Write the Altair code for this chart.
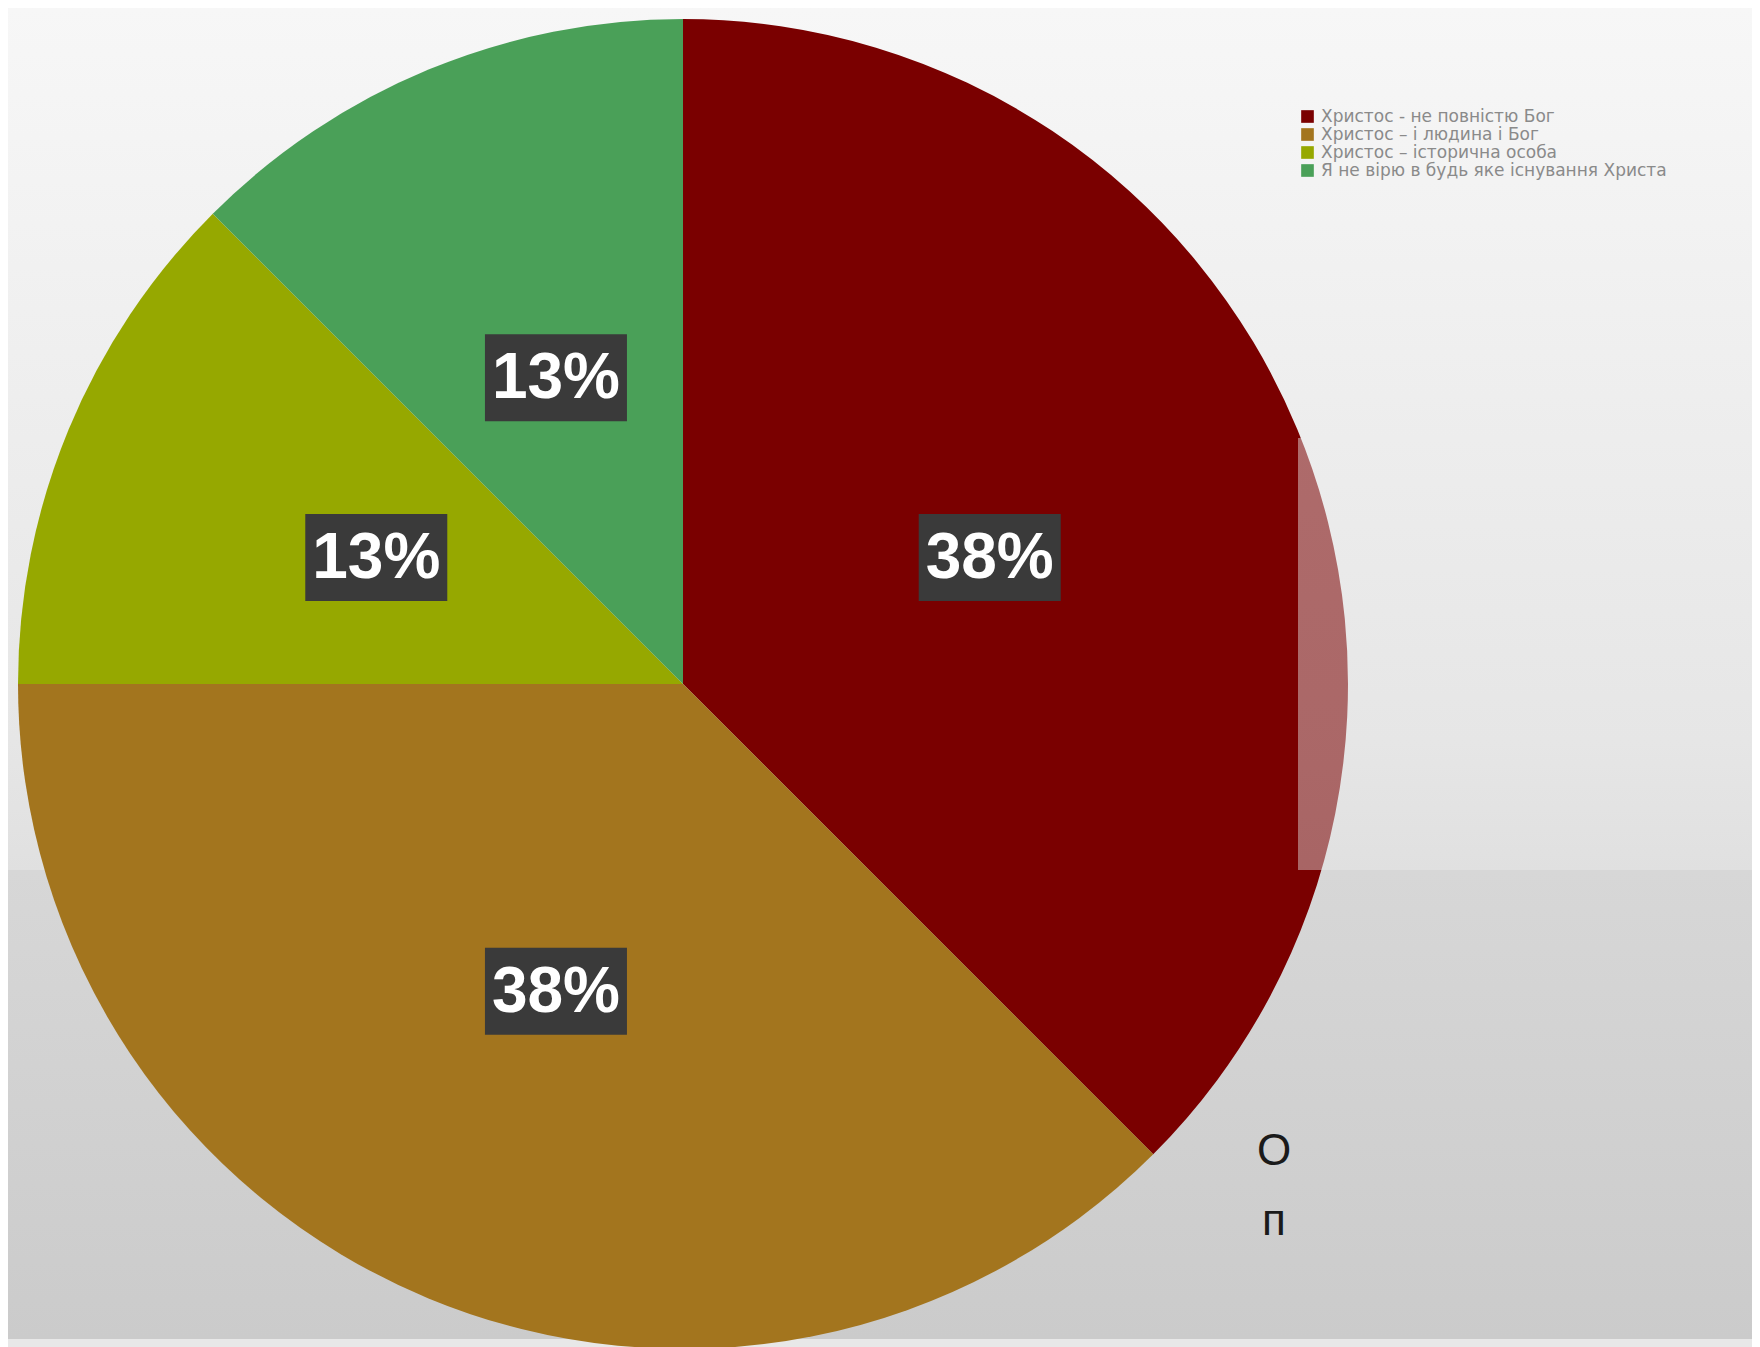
import altair as alt
import pandas as pd

categories = [
    "Христос  - не повністю Бог",
    "Христос – і людина і Бог",
    "Христос – історична особа",
    "Я не вірю в будь яке існування Христа",
]
shares = [37.5, 37.5, 12.5, 12.5]
colors = ["#7a0000", "#a3751e", "#96a800", "#4aa058"]

df = pd.DataFrame({"category": categories, "value": shares, "order": list(range(len(categories)))})

W, H = 1744, 1331
CX, CY, R = 675, 676, 665
LR = 332

base = alt.Chart(df)

bg = alt.Chart(alt.Data(values=[{}])).mark_rect(
    fill=alt.Gradient(
        gradient="linear",
        stops=[
            alt.GradientStop(color="#f7f7f7", offset=0),
            alt.GradientStop(color="#e6e6e6", offset=0.55),
            alt.GradientStop(color="#cbcbcb", offset=1),
        ],
        x1=0, x2=0, y1=0, y2=1,
    )
).encode(x=alt.value(0), x2=alt.value(W), y=alt.value(0), y2=alt.value(H))

step = alt.Chart(alt.Data(values=[{}])).mark_rect(
    fill=alt.Gradient(
        gradient="linear",
        stops=[
            alt.GradientStop(color="#d7d7d7", offset=0),
            alt.GradientStop(color="#cbcbcb", offset=1),
        ],
        x1=0, x2=0, y1=0, y2=1,
    )
).encode(x=alt.value(0), x2=alt.value(W), y=alt.value(862), y2=alt.value(H))

pie = base.mark_arc(outerRadius=R, stroke=None).encode(
    theta=alt.Theta("value:Q", stack=True),
    order=alt.Order("order:Q"),
    color=alt.Color(
        "category:N",
        scale=alt.Scale(domain=categories, range=colors),
        sort=None,
        legend=alt.Legend(
            title=None,
            orient="none",
            legendX=1291,
            legendY=100,
            symbolType="square",
            symbolSize=160,
            symbolStrokeWidth=0,
            symbolOpacity=1,
            labelFont="DejaVu Sans",
            labelFontSize=17,
            labelColor="#8a8a8a",
            labelOffset=5,
            labelLimit=0,
            rowPadding=0,
        ),
    ),
    x=alt.value(CX),
    y=alt.value(CY),
)

overlay = alt.Chart(alt.Data(values=[{}])).mark_rect(
    opacity=0.45,
    fill=alt.Gradient(
        gradient="linear",
        stops=[
            alt.GradientStop(color="#ededed", offset=0),
            alt.GradientStop(color="#e6e6e6", offset=0.7),
            alt.GradientStop(color="#e0e0e0", offset=1),
        ],
        x1=0, x2=0, y1=0, y2=1,
    ),
).encode(x=alt.value(1290), x2=alt.value(W), y=alt.value(430), y2=alt.value(862))

pos = (
    base.transform_joinaggregate(total="sum(value)")
    .transform_window(cum="sum(value)", sort=[alt.SortField("order")], frame=[None, 0])
    .transform_calculate(
        mid="(datum.cum - datum.value/2) / datum.total * 2 * PI",
        label="format(datum.value / datum.total, '.0%')",
    )
    .transform_calculate(
        cx=f"{CX} + {LR} * sin(datum.mid)",
        cy=f"{CY} - {LR} * cos(datum.mid)",
    )
    .transform_calculate(
        bx1="datum.cx - 71", bx2="datum.cx + 71", by1="datum.cy - 43", by2="datum.cy + 44"
    )
)

boxes = pos.mark_rect(fill="#3a3a3a").encode(
    x=alt.X("bx1:Q", scale=None, axis=None),
    x2="bx2:Q",
    y=alt.Y("by1:Q", scale=None, axis=None),
    y2="by2:Q",
)

labels = pos.mark_text(
    font="Liberation Sans", fontSize=64, fontWeight="bold", color="white",
    align="center", baseline="middle", dy=2,
).encode(
    x=alt.X("cx:Q", scale=None, axis=None),
    y=alt.Y("cy:Q", scale=None, axis=None),
    text="label:N",
)

note1 = alt.Chart(alt.Data(values=[{}])).mark_text(
    text="О", font="Liberation Sans", fontSize=44, color="#1a1a1a", align="center", baseline="middle"
).encode(x=alt.value(1266), y=alt.value(1144))

note2 = alt.Chart(alt.Data(values=[{}])).mark_text(
    text="п", font="Liberation Sans", fontSize=44, color="#1a1a1a", align="center", baseline="middle"
).encode(x=alt.value(1266), y=alt.value(1214))

chart = (
    alt.layer(bg, step, pie, overlay, boxes, labels, note1, note2)
    .properties(width=W, height=H, padding=0, background="#e8e8e8")
    .configure_view(stroke=None)
)

chart.save("out.html", embed_options={"renderer": "svg", "actions": False})
